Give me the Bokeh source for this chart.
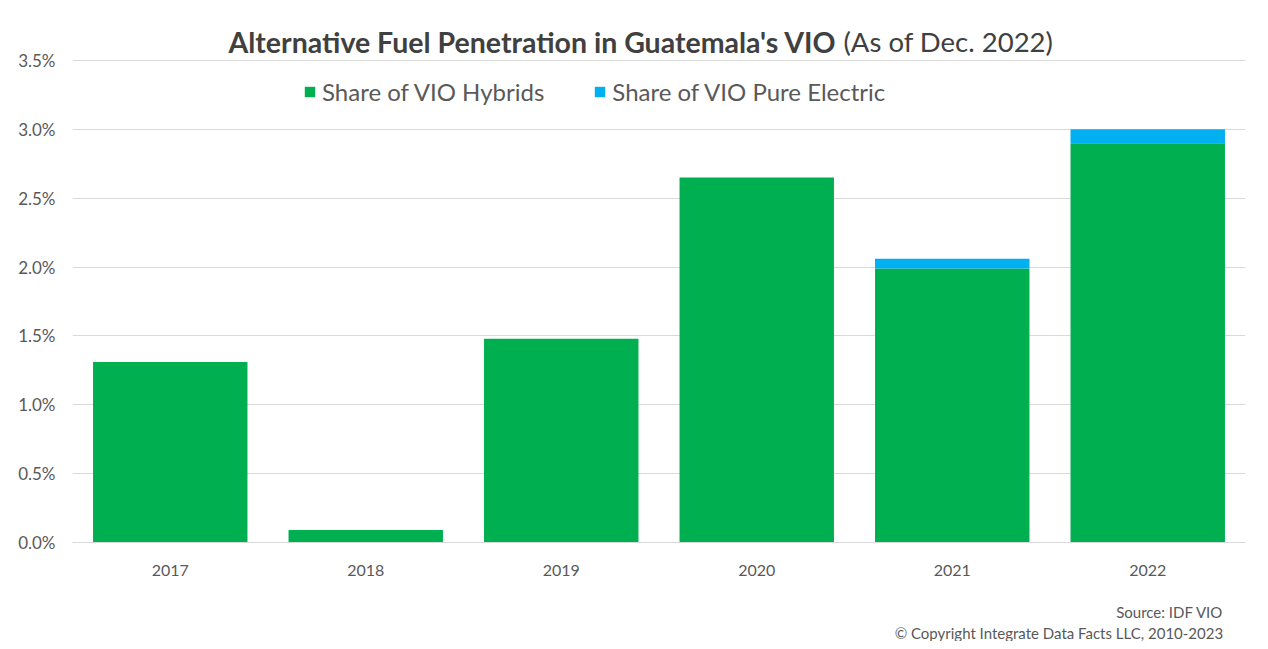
from bokeh.plotting import figure
from bokeh.layouts import column
from bokeh.models import (ColumnDataSource, Range1d, FixedTicker, PrintfTickFormatter,
                          Label, Legend, LegendItem)
from bokeh.embed import file_html
from bokeh.resources import INLINE

years = ["2017", "2018", "2019", "2020", "2021", "2022"]
hybrid = [1.31, 0.09, 1.48, 2.65, 1.99, 2.90]
electric = [0.0, 0.0, 0.0, 0.0, 0.07, 0.10]
y_ticks = [0.0, 0.5, 1.0, 1.5, 2.0, 2.5, 3.0, 3.5]
footer_lines = ["Source: IDF VIO", "\u00a9 Copyright Integrate Data Facts LLC, 2010-2023"]

GREEN = "#00B050"
BLUE = "#00B0F0"
FONT = "Lato"
W, H = 1260, 641
H1 = 588
TOP = 10
YMAX = 3.5 * (542 - TOP) / (542 - 60)

xpos = [i + 0.5 for i in range(len(years))]
source = ColumnDataSource(dict(x=xpos, year=years, hybrid=hybrid, electric=electric))

p = figure(width=W, height=H1, output_backend="svg", toolbar_location=None,
           x_range=Range1d(0, len(years)), y_range=Range1d(0, YMAX),
           min_border_left=72, min_border_right=W - 1245, min_border_top=TOP,
           min_border_bottom=H1 - 542)
p.outline_line_color = None
p.background_fill_color = "white"
p.border_fill_color = "white"

rs = p.vbar_stack(["hybrid", "electric"], x="x", width=0.79, source=source,
                  color=[GREEN, BLUE], line_color=None)

p.xgrid.grid_line_color = None
p.ygrid.grid_line_color = "#D9D9D9"
p.ygrid.grid_line_width = 1
p.yaxis.ticker = FixedTicker(ticks=y_ticks)
p.yaxis.formatter = PrintfTickFormatter(format="%.1f%%")
p.yaxis.axis_line_color = None
p.yaxis.major_tick_line_color = None
p.yaxis.minor_tick_line_color = None
p.yaxis.major_label_text_font = FONT
p.yaxis.major_label_text_font_size = "17px"
p.yaxis.major_label_text_color = "#595959"
p.yaxis.major_label_standoff = 11

p.xaxis.ticker = FixedTicker(ticks=xpos)
p.xaxis.major_label_overrides = {x: y for x, y in zip(xpos, years)}
p.xaxis.axis_line_color = "#D9D9D9"
p.xaxis.major_tick_line_color = None
p.xaxis.minor_tick_line_color = None
p.xaxis.major_label_text_font = FONT
p.xaxis.major_label_text_font_size = "16px"
p.xaxis.major_label_text_color = "#595959"
p.xaxis.major_label_standoff = 16

legend = Legend(items=[LegendItem(label="Share of VIO Hybrids", renderers=[rs[0]]),
                       LegendItem(label="Share of VIO Pure Electric", renderers=[rs[1]])],
                orientation="horizontal", location=(231, 436),
                glyph_width=13, glyph_height=13, spacing=49, label_standoff=6,
                label_text_font=FONT, label_text_font_size="24px", label_text_color="#595959",
                background_fill_alpha=0, border_line_color=None, padding=0, margin=0)
p.add_layout(legend)

title_y = (542 - 41) / ((542 - 60) / 3.5)
p.add_layout(Label(x=(836 - 72) / 195.5, y=title_y,
                   text="Alternative Fuel Penetration in Guatemala's VIO",
                   text_align="right", text_baseline="middle", text_font=FONT,
                   text_font_style="bold", text_font_size="28.5px", text_color="#404040"))
p.add_layout(Label(x=(843 - 72) / 195.5, y=title_y, text="(As of Dec. 2022)",
                   text_align="left", text_baseline="middle", text_font=FONT,
                   text_font_size="27.5px", text_color="#404040"))

# footer strip: a small figure whose frame spans its whole canvas (pixel-like ranges)
f = figure(width=W, height=H - H1, output_backend="svg", toolbar_location=None,
           x_range=Range1d(0, W), y_range=Range1d(H, H1),
           x_axis_location=None, y_axis_location=None, min_border=0)
f.outline_line_color = None
f.xgrid.grid_line_color = None
f.ygrid.grid_line_color = None
f.border_fill_color = "white"
for txt, yy in zip(footer_lines, [611, 632]):
    f.add_layout(Label(x=1236, y=yy, text=txt, text_align="right", text_baseline="middle",
                       text_font=FONT, text_font_size="15px", text_color="#595959"))

layout = column(p, f, spacing=0)
open("out.html", "w").write(file_html(layout, INLINE))
